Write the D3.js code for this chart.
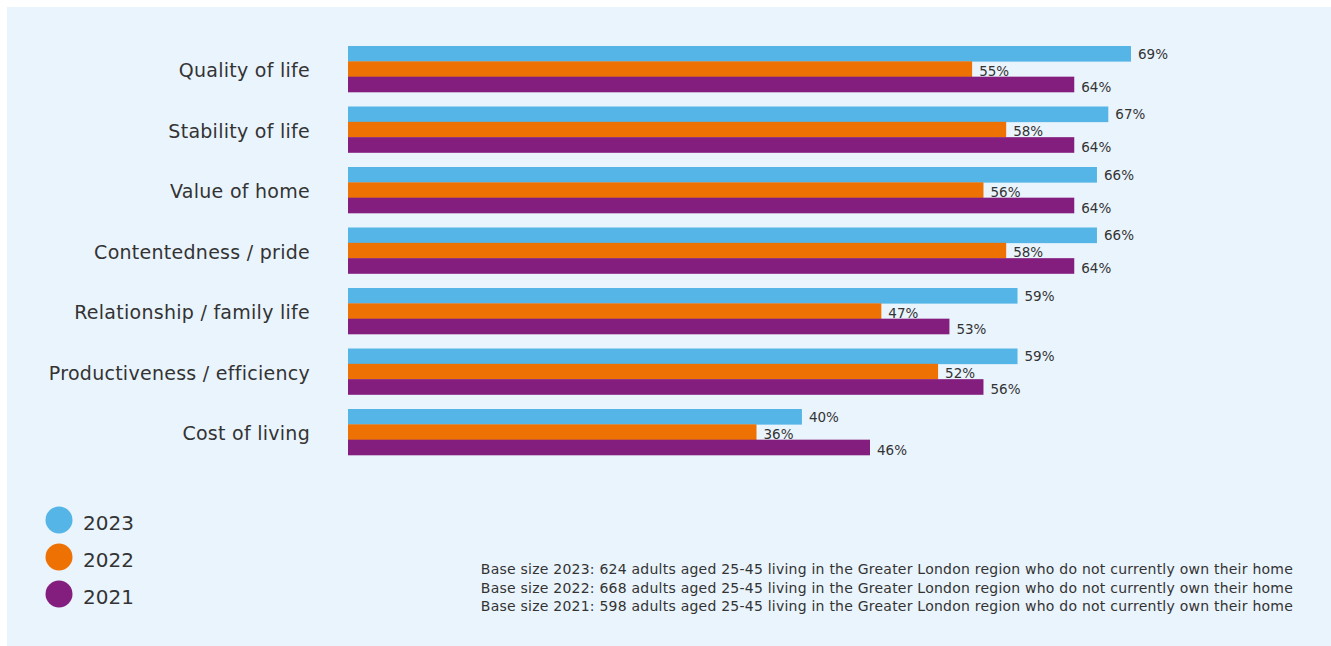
<!DOCTYPE html>
<html><head><meta charset="utf-8">
<script src="https://cdn.jsdelivr.net/npm/d3@7"></script>
<style>
html,body{margin:0;padding:0;background:#fff;}
svg{display:block;font-family:"DejaVu Sans",sans-serif;}
</style></head>
<body>
<svg id="chart" width="1331" height="646"></svg>
<script>
const categories = ["Quality of life","Stability of life","Value of home","Contentedness / pride","Relationship / family life","Productiveness / efficiency","Cost of living"];
const years = ["2023","2022","2021"];
const values2023 = [69,67,66,66,59,59,40];
const values2022 = [55,58,56,58,47,52,36];
const values2021 = [64,64,64,64,53,56,46];
const colors = ["#56B5E7","#EE7203","#841E7E"];
const footnotes = [
  "Base size 2023: 624 adults aged 25-45 living in the Greater London region who do not currently own their home",
  "Base size 2022: 668 adults aged 25-45 living in the Greater London region who do not currently own their home",
  "Base size 2021: 598 adults aged 25-45 living in the Greater London region who do not currently own their home"
];
const series = [values2023, values2022, values2021];

const svg = d3.select("#chart");
svg.append("rect").attr("x",7).attr("y",7).attr("width",1324).attr("height",639).attr("fill","#EAF4FD");

const x = d3.scaleLinear().domain([0,69]).range([348,1131]);
const yb = d3.scaleBand().domain(categories).range([46, 46 + 60.5*6 + 46]).paddingInner(14.5/60.5).paddingOuter(0);
const sub = d3.scaleBand().domain(years).range([0, yb.bandwidth()]);

const g = svg.append("g");
categories.forEach((c,i)=>{
  years.forEach((yr,j)=>{
    const v = series[j][i];
    const y0 = yb(c)+sub(yr);
    g.append("rect").attr("x",x(0)).attr("y",y0).attr("width",x(v)-x(0)).attr("height",sub.bandwidth()+0.3).attr("fill",colors[j]);
    g.append("text").attr("x",x(v)+7).attr("y",y0+sub.bandwidth()/2+[0,1.5,2.5][j])
      .attr("dominant-baseline","central").attr("font-size",13.5).attr("fill","#333")
      .text(v+"%");
  });
  g.append("text").attr("x",310).attr("y",yb(c)+yb.bandwidth()/2+1)
    .attr("text-anchor","end").attr("dominant-baseline","central")
    .attr("font-size",19).attr("letter-spacing","0.27px").attr("fill","#333").text(c);
});

// legend
years.forEach((yr,j)=>{
  svg.append("circle").attr("cx",59).attr("cy",520+37*j).attr("r",13.5).attr("fill",colors[j]);
  svg.append("text").attr("x",83).attr("y",523+37*j).attr("dominant-baseline","central")
    .attr("font-size",20).attr("fill","#333").text(yr);
});

footnotes.forEach((t,k)=>{
  svg.append("text").attr("x",1293).attr("y",569+18.5*k).attr("text-anchor","end")
    .attr("dominant-baseline","central").attr("font-size",14).attr("letter-spacing","0.23px").attr("fill","#333").text(t);
});
</script>
</body></html>
